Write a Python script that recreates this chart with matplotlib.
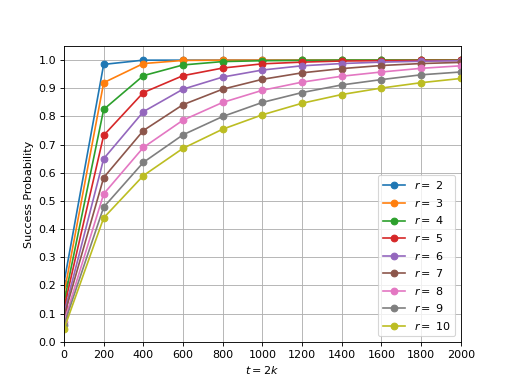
import numpy as np
import matplotlib
matplotlib.use("Agg")
import matplotlib.pyplot as plt

# t values (x axis)
t = [0, 200, 400, 600, 800, 1000, 1200, 1400, 1600, 1800, 2000]
r_values = [2, 3, 4, 5, 6, 7, 8, 9, 10]

# success probability per r
prob = {
    2:  [0.21, 0.985, 1.0, 1.0, 1.0, 1.0, 1.0, 1.0, 1.0, 1.0, 1.0],
    3:  [0.17, 0.92, 0.988, 0.999, 1.0, 1.0, 1.0, 1.0, 1.0, 1.0, 1.0],
    4:  [0.14, 0.825, 0.945, 0.983, 0.995, 0.998, 0.999, 1.0, 1.0, 1.0, 1.0],
    5:  [0.12, 0.733, 0.885, 0.945, 0.972, 0.987, 0.993, 0.997, 0.998, 0.999, 0.999],
    6:  [0.10, 0.65, 0.817, 0.897, 0.94, 0.965, 0.98, 0.988, 0.993, 0.996, 0.998],
    7:  [0.09, 0.583, 0.75, 0.842, 0.897, 0.932, 0.955, 0.97, 0.981, 0.988, 0.992],
    8:  [0.07, 0.525, 0.69, 0.787, 0.85, 0.893, 0.922, 0.943, 0.958, 0.971, 0.98],
    9:  [0.06, 0.478, 0.637, 0.735, 0.80, 0.85, 0.885, 0.912, 0.931, 0.948, 0.958],
    10: [0.045, 0.44, 0.59, 0.687, 0.755, 0.806, 0.847, 0.878, 0.901, 0.92, 0.935],
}

fig, ax = plt.subplots(figsize=(6.4, 4.8), dpi=80)
for r in r_values:
    ax.plot(t, prob[r], marker="o", label=r"$r=$ %d" % r)

ax.set_xlim(0, 2000)
ax.set_ylim(0, 1.05)
ax.set_xticks(np.arange(0, 2001, 200))
ax.set_yticks(np.arange(0, 1.01, 0.1))
ax.set_xlabel(r"$t=2k$")
ax.set_ylabel("Success Probability")
ax.grid(True)
ax.legend(loc="lower right")

plt.savefig("out.png", dpi=80)
